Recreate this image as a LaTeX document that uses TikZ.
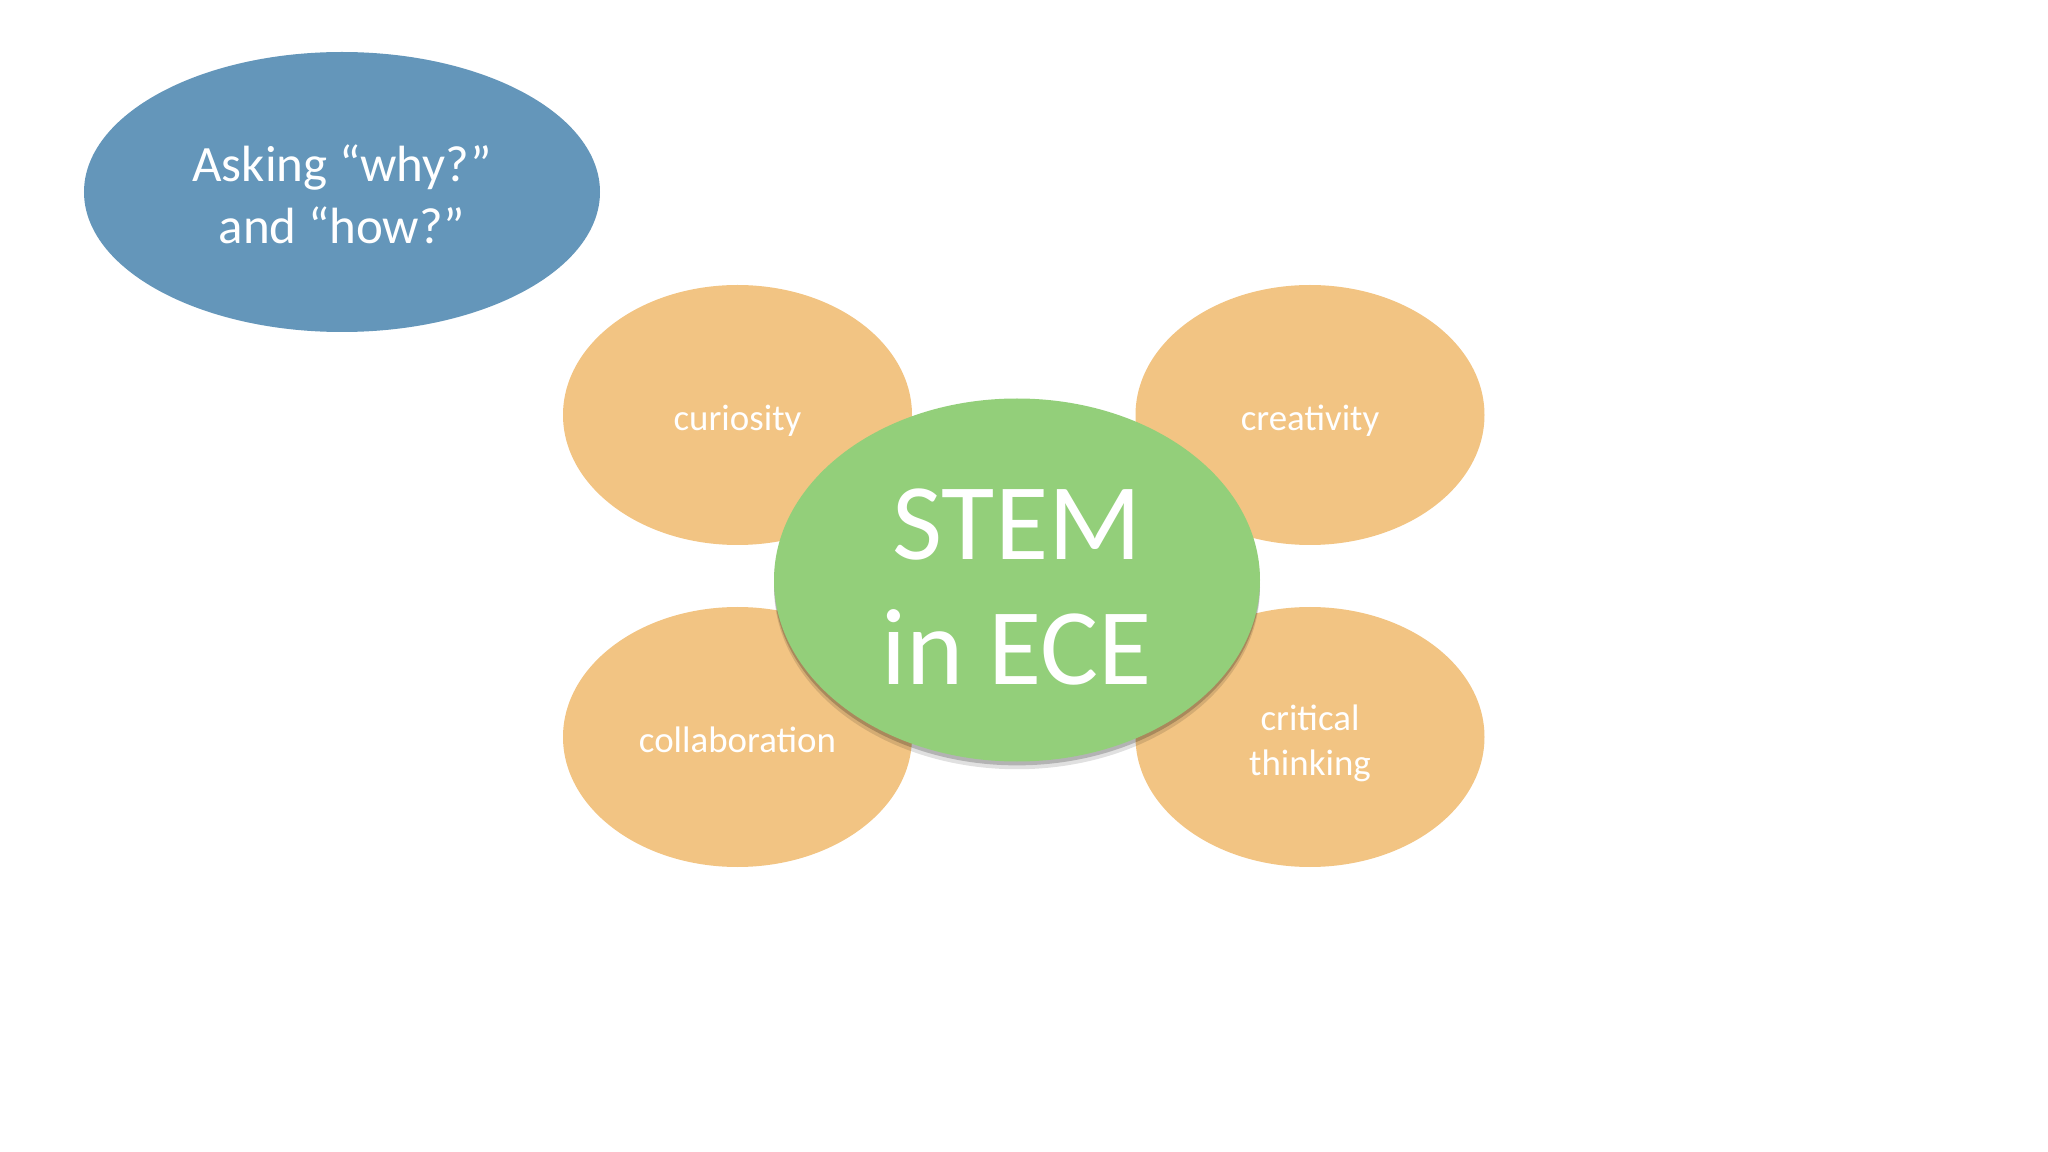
\documentclass[tikz,border=0pt]{standalone}
\usepackage{fontspec}
\setmainfont{Carlito}
\usepackage{xcolor}
\usepackage{tikz}
\usetikzlibrary{shapes.geometric,shadows}
\definecolor{figblue}{RGB}{100,150,186}
\definecolor{figorange}{RGB}{242,196,131}
\definecolor{figgreen}{RGB}{147,207,122}
\newcommand{\padtop}[1]{\rule{0pt}{#1}}
\newcommand{\padbot}[1]{\rule[-#1]{0pt}{#1}}
\tikzset{
  blob/.style   ={ellipse, inner sep=0pt, text=white, align=center},
  quest/.style  ={blob, fill=figblue, minimum width=5.16cm, minimum height=2.80cm, font=\fontsize{14.5}{17.5}\selectfont},
  trait/.style  ={blob, fill=figorange, minimum width=3.49cm, minimum height=2.60cm, font=\fontsize{10.5}{12.8}\selectfont},
  core/.style   ={blob, fill=figgreen, minimum width=4.86cm, minimum height=3.63cm, font=\fontsize{31}{35.6}\selectfont,
                  drop shadow={shadow xshift=0pt, shadow yshift=-2.2pt, opacity=0.12, fill=black},
                  drop shadow={shadow xshift=0pt, shadow yshift=-1.1pt, opacity=0.2, fill=black}},
}

\begin{document}
\begin{tikzpicture}
  \useasboundingbox (0,0) rectangle (20.48,-11.52);
  \node[quest] (ask) at (3.42,-1.92) {\padtop{16.5pt}Asking “why?”\\and “how?”\padbot{4.8pt}};
  \node[trait] (curi) at (7.375,-4.15) {\padtop{13.5pt}curiosity\padbot{4.5pt}};
  \node[trait] (crea) at (13.10,-4.15) {\padtop{13.5pt}creativity\padbot{4.5pt}};
  \node[trait] (coll) at (7.375,-7.37) {\padtop{13.5pt}collaboration\padbot{4.5pt}};
  \node[trait] (crit) at (13.10,-7.37) {\padtop{13.8pt}critical\\thinking\padbot{4.9pt}};
  \node[core] (stem) at (10.17,-5.80) {\padtop{29pt}STEM\\in ECE\padbot{5pt}};
\end{tikzpicture}
\end{document}
